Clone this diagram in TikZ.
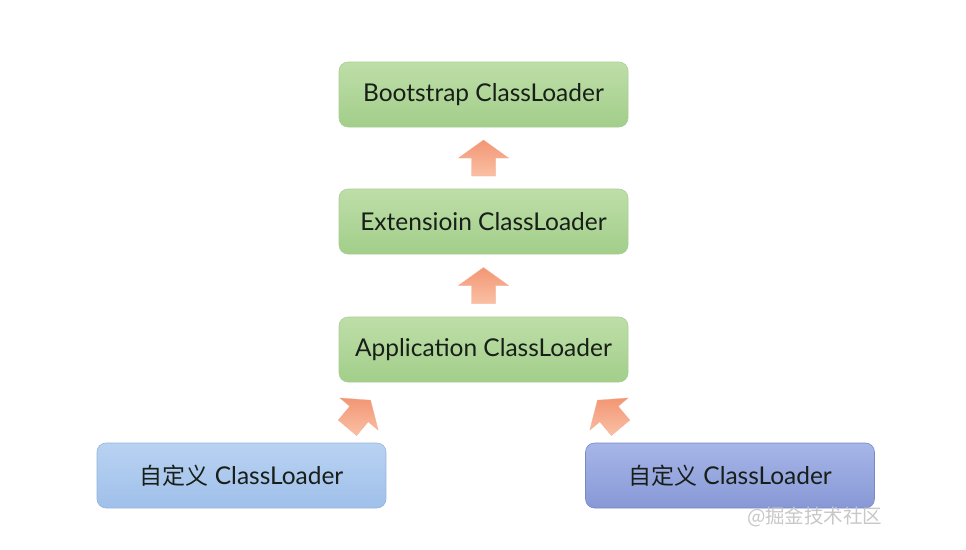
\documentclass[tikz,border=0pt]{standalone}
\usepackage{fontspec}
\setmainfont{Lato}
\newfontfamily\cjk{Noto Sans CJK SC}
\usetikzlibrary{positioning,calc}

\definecolor{greenTop}{RGB}{190,222,168}
\definecolor{greenBot}{RGB}{162,206,138}
\definecolor{greenLine}{RGB}{168,208,148}
\definecolor{blueTop}{RGB}{184,210,242}
\definecolor{blueBot}{RGB}{160,192,234}
\definecolor{blueLine}{RGB}{150,180,220}
\definecolor{violetTop}{RGB}{166,182,232}
\definecolor{violetBot}{RGB}{136,152,214}
\definecolor{violetLine}{RGB}{120,136,200}
\definecolor{arrowTop}{RGB}{242,150,116}
\definecolor{arrowBot}{RGB}{250,192,164}
\definecolor{labelInk}{RGB}{24,30,24}
\definecolor{markGray}{RGB}{200,200,200}

\tikzset{
  loaderbox/.style={rounded corners=9pt, minimum width=289pt, minimum height=65pt,
    inner sep=0pt, font=\fontsize{24.5}{28}\selectfont, text=labelInk, line width=0.6pt},
  greenbox/.style={loaderbox, draw=greenLine, top color=greenTop, bottom color=greenBot},
  bluebox/.style={loaderbox, draw=blueLine, top color=blueTop, bottom color=blueBot},
  violetbox/.style={loaderbox, draw=violetLine, top color=violetTop, bottom color=violetBot},
  % block arrow pointing up, centred on the pic origin
  pics/blockarrow/.style={code={
    \shade[top color=arrowTop, bottom color=arrowBot, draw=arrowTop!80!white, line width=0.3pt]
      (0,-18) -- (25,0) -- (12,0) -- (12,18) -- (-12,18) -- (-12,0) -- (-25,0) -- cycle;
  }}
}

\begin{document}
\begin{tikzpicture}[x=1pt, y=-1pt]
  \useasboundingbox[fill=white] (0,0) rectangle (966,549);

  \node[greenbox]  (boot) at (483.5, 94.5)  {Bootstrap ClassLoader};
  \node[greenbox]  (ext)  at (483.5, 221.5) {Extensioin ClassLoader};
  \node[greenbox]  (app)  at (483.5, 349.5) {Application ClassLoader};
  \node[bluebox]   (cl1)  at (241.5, 475.5) {{\cjk\fontsize{23}{28}\selectfont 自定义} ClassLoader};
  \node[violetbox] (cl2)  at (730.0, 475.5) {{\cjk\fontsize{23}{28}\selectfont 自定义} ClassLoader};

  % delegation arrows between the loaders
  \pic at ($(ext.north)!0.5!(boot.south)$) {blockarrow};
  \pic at ($(app.north)!0.5!(ext.south)$) {blockarrow};
  \pic[rotate=-40] at (359,414) {blockarrow};
  \pic[rotate=40]  at (609,414) {blockarrow};

  \node[font=\cjk\fontsize{19.5}{22}\selectfont, text=markGray, anchor=east] (mark) at (886,517) {@掘金技术社区};
\end{tikzpicture}
\end{document}
